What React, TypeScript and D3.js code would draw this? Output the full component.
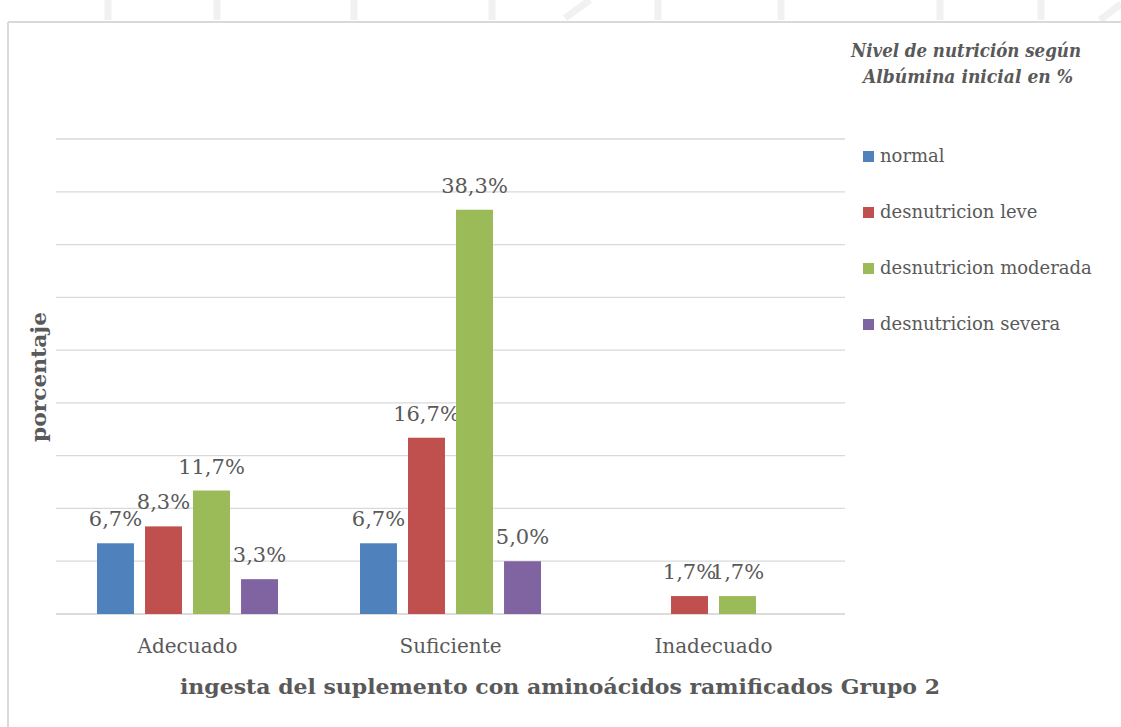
import React from "react";
import * as d3 from "d3";

const categories = ["Adecuado", "Suficiente", "Inadecuado"];
const seriesNames = ["normal", "desnutricion leve", "desnutricion moderada", "desnutricion severa"];
const normalValues: (number | null)[] = [6.7, 6.7, null];
const leveValues: (number | null)[] = [8.3, 16.7, 1.7];
const moderadaValues: (number | null)[] = [11.7, 38.3, 1.7];
const severaValues: (number | null)[] = [3.3, 5.0, null];
const yTicks = [0, 5, 10, 15, 20, 25, 30, 35, 40, 45];
const colors = ["#4f81bd", "#c0504d", "#9bbb59", "#8064a2"];

const seriesValues = [normalValues, leveValues, moderadaValues, severaValues];

const W = 1121;
const H = 727;
const FONT = "'DejaVu Serif', serif";
const TEXT = "#595959";

export default function App() {
  const x0 = d3.scaleBand<string>().domain(categories).range([56, 845]).padding(0);
  const x1 = d3
    .scaleBand<string>()
    .domain(seriesNames)
    .range([0, x0.bandwidth()])
    .paddingInner(0.23)
    .paddingOuter(0.854);
  const y = d3.scaleLinear().domain([0, 45]).range([614, 139]);
  const fmt = (v: number) => v.toFixed(1).replace(".", ",") + "%";

  const watermark = [108, 217, 354, 492, 658, 781, 940, 1041];

  return (
    <div style={{ position: "fixed", left: 0, top: 0, width: W, height: H, background: "#fff" }}>
      <svg width={W} height={H} style={{ display: "block" }}>
        <rect x={0} y={0} width={W} height={H} fill="#fff" />
        {watermark.map((wx, i) => (
          <line key={i} x1={wx} x2={wx} y1={0} y2={20} stroke="#f1f1f1" strokeWidth={7} />
        ))}
        <line x1={565} y1={18} x2={590} y2={0} stroke="#f1f1f1" strokeWidth={7} />
        <line x1={1100} y1={20} x2={1121} y2={4} stroke="#f1f1f1" strokeWidth={7} />
        {/* frame */}
        <line x1={8} x2={W} y1={22} y2={22} stroke="#d9d9d9" strokeWidth={2} />
        <line x1={8} x2={8} y1={22} y2={H} stroke="#d9d9d9" strokeWidth={2} />

        {/* gridlines */}
        {yTicks.map((t) => (
          <line
            key={t}
            x1={56}
            x2={845}
            y1={y(t)}
            y2={y(t)}
            stroke={t === 0 ? "#d0d0d0" : "#d9d9d9"}
            strokeWidth={t === 0 ? 1.6 : 1.3}
          />
        ))}

        {/* bars */}
        {categories.map((c, ci) => (
          <g key={c} transform={`translate(${x0(c)},0)`}>
            {seriesNames.map((s, si) => {
              const v = seriesValues[si][ci];
              if (v == null) return null;
              const bx = x1(s)!;
              const bw = x1.bandwidth();
              return (
                <g key={s}>
                  <rect x={bx} y={y(v)} width={bw} height={y(0) - y(v)} fill={colors[si]} />
                  <text
                    x={bx + bw / 2}
                    y={y(v) - 17}
                    textAnchor="middle"
                    fontFamily={FONT}
                    fontSize={21}
                    fill={TEXT}
                  >
                    {fmt(v)}
                  </text>
                </g>
              );
            })}
          </g>
        ))}

        {/* category labels */}
        {categories.map((c) => (
          <text
            key={c}
            x={x0(c)! + x0.bandwidth() / 2}
            y={653}
            textAnchor="middle"
            fontFamily={FONT}
            fontSize={20}
            fill={TEXT}
          >
            {c}
          </text>
        ))}

        {/* x axis title */}
        <text
          x={560}
          y={694}
          textAnchor="middle"
          fontFamily={FONT}
          fontSize={21}
          fontWeight="bold"
          fill={TEXT}
          textLength={760}
          lengthAdjust="spacingAndGlyphs"
        >
          ingesta del suplemento con aminoácidos ramificados Grupo 2
        </text>

        {/* y axis title */}
        <text
          transform="translate(46,377) rotate(-90)"
          textAnchor="middle"
          fontFamily={FONT}
          fontSize={20}
          fontWeight="bold"
          fill={TEXT}
          textLength={130}
          lengthAdjust="spacingAndGlyphs"
        >
          porcentaje
        </text>

        {/* legend title */}
        <text
          x={966}
          y={57}
          textAnchor="middle"
          fontFamily={FONT}
          fontSize={18}
          fontWeight="bold"
          fontStyle="italic"
          fill={TEXT}
          textLength={230}
          lengthAdjust="spacingAndGlyphs"
        >
          Nivel de nutrición según
        </text>
        <text
          x={968}
          y={83}
          textAnchor="middle"
          fontFamily={FONT}
          fontSize={18}
          fontWeight="bold"
          fontStyle="italic"
          fill={TEXT}
          textLength={210}
          lengthAdjust="spacingAndGlyphs"
        >
          Albúmina inicial en %
        </text>

        {/* legend items */}
        {seriesNames.map((s, i) => (
          <g key={s} transform={`translate(863,${151 + i * 56})`}>
            <rect x={0} y={0} width={11} height={11} fill={colors[i]} />
            <text x={17} y={11} fontFamily={FONT} fontSize={18} fill={TEXT}>
              {s}
            </text>
          </g>
        ))}
      </svg>
    </div>
  );
}
